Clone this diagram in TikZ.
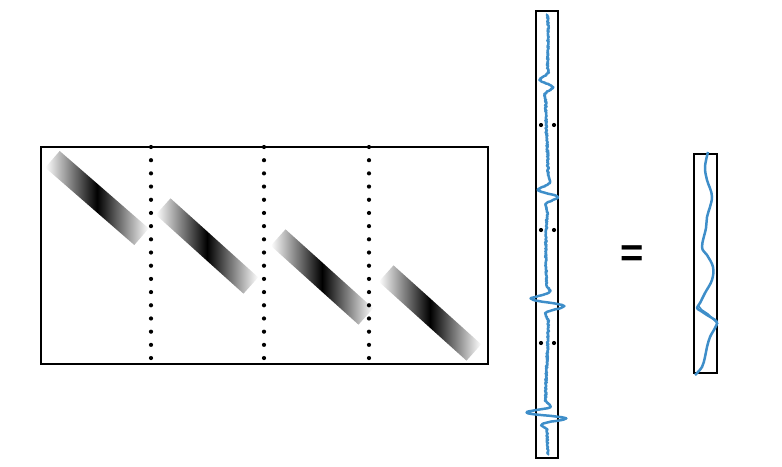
\documentclass[tikz,border=0pt]{standalone}
\usepackage{fontspec}
\usepackage{tikz}
\usetikzlibrary{calc}
\newfontfamily\eqfont{Liberation Sans}

\definecolor{sigblue}{RGB}{62,142,201}
\pgfmathdeclarefunction{burst}{5}{%
  \pgfmathparse{#5*exp(-min(pow((#1-#2)/#3,2),20))*sin((#1-#2)/#4*360)}%
}

\begin{document}
\begin{tikzpicture}[x=1pt, y=-1pt,
  frame/.style={rectangle, draw=black, line width=2pt, inner sep=0pt},
  band/.style={rectangle, inner sep=0pt, minimum width=118pt, minimum height=22pt,
    left color=white, right color=white, middle color=black},
  sepdot/.style={fill=black},
  signal/.style={draw=sigblue, line width=2.5pt, line join=round},
]
\useasboundingbox (0,0) rectangle (782,466);
\pgfmathsetseed{1234}

%% ── Matrix with its four diagonal blocks ──
\node[band, rotate=-41] (b1) at (97,198)  {};
\node[band, rotate=-42] (b2) at (207,246) {};
\node[band, rotate=-42] (b3) at (322,277) {};
\node[band, rotate=-42] (b4) at (430,313) {};
\node[frame, minimum width=447pt, minimum height=217pt] (mat) at (264.5,255.5) {};
%% dotted block separators
\foreach \sx in {151,264,369}
  \foreach \k in {0,...,16}
    \fill[sepdot] (\sx,147+13.19*\k) circle (2.1);

%% ── Long stacked vector ──
\node[frame, minimum width=22pt, minimum height=447pt] (vec) at (547,234.5) {};
\draw[signal] plot[variable=\t, domain=14:455, samples=700]
  ({547 + 1.2*sin(2.5*\t) + 0.8*rand
       + burst(\t,83.5,9,18,8) + burst(\t,193.5,9,18,12)
       + burst(\t,302.5,9,18,20) + burst(\t,415.5,8,14,23)}, \t);
\foreach \sy in {125,230,343}
  \foreach \sx in {541,554}
    \fill[sepdot] (\sx,\sy) circle (2.1);

%% ── Equals ──
\node[font=\eqfont\bfseries\fontsize{40}{40}\selectfont] (eq) at (632,256) {=};

%% ── Result vector ──
\node[frame, minimum width=23pt, minimum height=219pt] (res) at (705.5,263.5) {};
\draw[signal] plot[smooth, tension=0.6] coordinates {
  (708,152) (705,167) (707,180) (712,197) (707,217) (706,228) (702,247)
  (707,255) (713,267) (712,280) (705,293) (700,303) (697,308) (701,311)
  (707,315) (712,318) (717,322) (715,328) (710,337) (707,347) (705,357)
  (702,367) (695,375)};
\draw[signal, line width=1.6pt] plot[smooth] coordinates {
  (698,305) (702,310) (708,314) (714,320) (718,324)};
\end{tikzpicture}
\end{document}
